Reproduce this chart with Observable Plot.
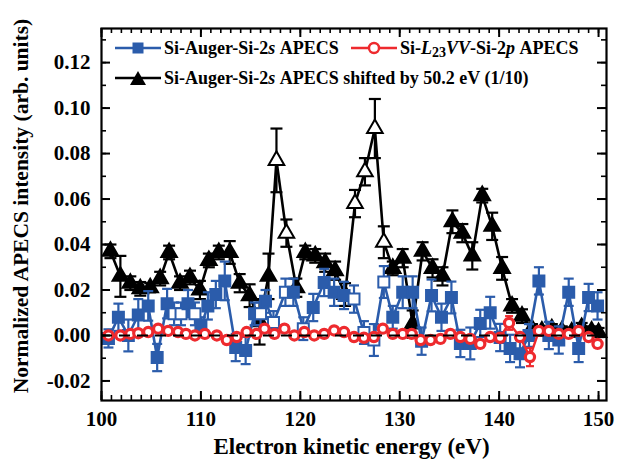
<!DOCTYPE html>
<html><head><meta charset="utf-8">
<script src="https://cdn.jsdelivr.net/npm/d3@7"></script>
<script src="https://cdn.jsdelivr.net/npm/@observablehq/plot@0.6"></script>
<style>
body{margin:0;background:#fff;}
#wrap{position:relative;width:623px;height:459px;font-family:"Liberation Serif","Times New Roman",serif;font-weight:bold;color:#000;}
.t{position:absolute;white-space:nowrap;line-height:1;}
.leg{position:absolute;display:flex;align-items:center;font-size:18px;white-space:nowrap;line-height:1;}
.leg svg{margin-right:3px;}
</style></head><body><div id="wrap"></div>
<script>
// ---- data ----
const blackX = [100.9,101.9,102.9,103.9,104.9,105.9,106.8,107.9,108.9,109.9,110.8,111.8,112.9,113.9,114.9,115.9,116.8,117.6,118.6,119.6,120.5,121.5,122.5,123.5,124.5,125.5,126.5,127.5,128.4,129.3,130.3,131.3,132.3,133.3,134.3,135.3,136.3,137.3,138.3,139.3,140.3,141.3,142.3,143.3,144.3,145.3,146.3,147.3,148.3,149.3,150.0];
const blackY = [0.037,0.026,0.023,0.0205,0.021,0.025,0.0365,0.023,0.0255,0.020,0.033,0.0365,0.0365,0.023,0.0175,0.006,0.026,0.077,0.045,0.021,0.0365,0.035,0.032,0.0285,0.018,0.058,0.072,0.091,0.041,0.0295,0.034,0.005,0.037,0.0295,0.026,0.050,0.045,0.035,0.0615,0.048,0.0295,0.013,0.0085,0.003,0.002,0.003,0.002,0.0015,0.0035,0.002,0.0013];
const blackErr = [0.003,0.009,0.003,0.003,0.002,0.003,0.003,0.003,0.003,0.004,0.003,0.003,0.005,0.004,0.005,0.01,0.01,0.014,0.006,0.004,0.003,0.003,0.004,0.004,0.005,0.006,0.006,0.013,0.007,0.003,0.004,0.006,0.004,0.004,0.004,0.005,0.004,0.006,0.003,0.006,0.005,0.003,0.003,0.002,0.002,0.002,0.002,0.002,0.002,0.002,0.002];
const blackOpen = [0,0,0,0,0,0,0,0,0,0,0,0,0,0,0,0,0,1,1,0,0,0,0,0,0,1,1,1,1,0,0,0,0,0,0,0,0,0,0,0,0,0,0,0,0,0,0,0,0,0,0];

const blueX = [100.7,101.7,102.7,103.7,104.7,105.6,106.6,107.3,108.0,108.7,109.4,110.0,110.7,111.5,112.4,113.5,114.5,115.4,116.0,116.5,117.3,118.5,119.3,120.3,121.3,122.4,123.4,124.4,125.4,126.4,127.4,128.4,129.3,130.3,131.3,132.2,133.2,134.2,135.2,136.1,137.1,138.1,139.1,140.1,141.1,142.1,143.0,144.0,145.0,146.0,147.0,148.0,149.0,149.9];
const blueY = [-0.0013,0.008,0.000,0.009,0.013,-0.0097,0.014,0.0095,0.0095,0.014,0.0095,0.004,0.013,0.018,0.024,-0.0053,-0.0066,0.0095,0.0095,0.015,0.0057,0.019,0.019,0.003,0.0123,0.0233,0.019,0.0176,0.016,0.0013,-0.002,0.0235,0.008,0.019,0.019,-0.0025,0.0176,0.008,0.0167,-0.0035,-0.0035,0.0053,0.010,-0.0009,-0.0057,-0.008,0.000,0.024,0.000,-0.002,0.019,-0.0057,0.0167,0.013];
const blueErr = [0.004,0.006,0.007,0.007,0.0065,0.006,0.0065,0.005,0.005,0.006,0.005,0.004,0.006,0.006,0.0085,0.006,0.006,0.005,0.005,0.005,0.005,0.006,0.006,0.005,0.006,0.006,0.006,0.006,0.006,0.005,0.007,0.007,0.005,0.007,0.007,0.006,0.007,0.006,0.007,0.006,0.007,0.006,0.007,0.006,0.006,0.006,0.005,0.006,0.006,0.006,0.006,0.006,0.006,0.006];
const blueOpen = [0,0,0,0,0,0,0,1,1,0,1,0,0,0,0,0,0,0,1,0,1,1,0,1,0,0,0,0,1,1,1,1,0,0,0,0,0,0,0,0,0,0,0,0,0,0,0,0,0,0,0,0,0,0];

const redX = [100.7,101.9,102.9,103.7,104.7,105.7,106.7,107.7,108.5,109.4,110.4,111.6,112.6,113.6,114.6,115.6,116.4,117.4,118.4,119.4,120.4,121.4,122.4,123.4,124.4,125.4,126.4,127.4,128.3,129.3,130.3,131.2,132.1,133.1,134.1,135.1,136.1,137.1,138.1,139.1,140.1,141.0,142.1,143.1,144.0,145.0,146.0,147.0,148.0,149.0,149.9];
const redY = [0,0,0.0007,0.001,0.0015,0.003,0.002,0.0015,0.0007,0,0.0007,0,-0.002,-0.0007,0.0015,0.0007,0.003,0.0007,0.003,0,0.0015,0,0.0007,0.0022,0.0015,-0.0007,-0.001,-0.0007,0.003,0.0007,0.0007,0.0007,-0.002,-0.002,-0.0015,0.0007,-0.0007,-0.0015,-0.0037,-0.0007,-0.001,0.0055,-0.0007,-0.0095,0.002,0.002,0.0007,0.0007,0.002,-0.0007,-0.0037];
const redErr = redX.map((x) => x === 141.0 ? 0.003 : x === 143.1 ? 0.004 : 0.0015);

const xMajor = [100,110,120,130,140,150];
const xMinor = d3.range(100,151,1);
const yMajor = [-0.02,0,0.02,0.04,0.06,0.08,0.10,0.12];
const yMinor = d3.range(-0.02,0.1301,0.01).map(v => +v.toFixed(3));

const xTitle = "Electron kinetic energy (eV)";
const yTitle = "Normalized APECS intensity (arb. units)";

// ---- build ----
const BLUE = "#2b5cab", RED = "#ee2a2e", BLACK = "#000";
const mk = (X, Y, E, O) => X.map((x,i) => ({x, y: Y[i], e: E[i], open: O ? !!O[i] : true}));
const black = mk(blackX, blackY, blackErr, blackOpen);
const blue = mk(blueX, blueY, blueErr, blueOpen);
const red = mk(redX, redY, redErr, null);

const cap = {draw(ctx, size){ const w = Math.sqrt(size/Math.PI); ctx.moveTo(-w,0); ctx.lineTo(w,0); }};

const W = 623, H = 459, mt = 28, mr = 17, mb = 59, ml = 101;
const fw = W - ml - mr, fh = H - mt - mb;

function series(data, color, symbol, r, capR, lw, sw) {
  const caps = data.flatMap(d => [{x: d.x, y: d.y - d.e}, {x: d.x, y: d.y + d.e}]);
  return [
    Plot.ruleX(data, {x: "x", y1: d => d.y - d.e, y2: d => d.y + d.e, stroke: color, strokeWidth: 2.2}),
    Plot.dot(caps, {x: "x", y: "y", symbol: cap, r: capR, stroke: color, strokeWidth: 2.2, fill: "none"}),
    Plot.line(data, {x: "x", y: "y", stroke: color, strokeWidth: lw, curve: "linear"}),
    Plot.dot(data, {x: "x", y: "y", symbol, r, stroke: color, strokeWidth: sw, fill: d => d.open ? "white" : color})
  ];
}

const plot = Plot.plot({
  width: W, height: H,
  marginTop: mt, marginRight: mr, marginBottom: mb, marginLeft: ml,
  style: {fontFamily: '"Liberation Serif","Times New Roman",serif', fontWeight: "bold", fontSize: "21px", background: "white", color: "black"},
  x: {domain: [100, 150.8]},
  y: {domain: [-0.0286, 0.135]},
  marks: [
    ...series(black, BLACK, "triangle", 5.8, 6, 2.6, 2),
    ...series(blue, BLUE, "square", 6.2, 5, 2.6, 2),
    ...series(red, RED, "circle", 4.6, 4, 2.4, 3.2),
    Plot.ruleY([0], {stroke: "black", strokeWidth: 2, strokeDasharray: "11,7"}),
    // inward ticks
    Plot.tickX(xMinor, {x: d => d, insetTop: fh - 5, stroke: "black", strokeWidth: 1.6}),
    Plot.tickX(xMajor, {x: d => d, insetTop: fh - 9, stroke: "black", strokeWidth: 2}),
    Plot.tickX(xMinor, {x: d => d, insetBottom: fh - 5, stroke: "black", strokeWidth: 1.6}),
    Plot.tickX(xMajor, {x: d => d, insetBottom: fh - 9, stroke: "black", strokeWidth: 2}),
    Plot.tickY(yMinor, {y: d => d, insetRight: fw - 5, stroke: "black", strokeWidth: 1.6}),
    Plot.tickY(yMajor, {y: d => d, insetRight: fw - 9, stroke: "black", strokeWidth: 2}),
    Plot.tickY(yMinor, {y: d => d, insetLeft: fw - 5, stroke: "black", strokeWidth: 1.6}),
    Plot.tickY(yMajor, {y: d => d, insetLeft: fw - 9, stroke: "black", strokeWidth: 2}),
    Plot.axisX(xMajor, {anchor: "bottom", tickSize: 0, tickPadding: 11, label: null, tickFormat: d => String(d)}),
    Plot.axisY(yMajor, {anchor: "left", tickSize: 0, tickPadding: 11, label: null, tickFormat: d => d.toFixed(2)}),
    Plot.frame({stroke: "black", strokeWidth: 2.2})
  ]
});

const wrap = document.getElementById("wrap");
wrap.appendChild(plot);

function addDiv(html, css, cls) {
  const d = document.createElement("div");
  d.className = cls; d.innerHTML = html; d.style.cssText = css; wrap.appendChild(d); return d;
}
addDiv(xTitle, "left:" + (ml + fw/2 - 2) + "px;top:435px;transform:translateX(-50%);font-size:23px;", "t");
addDiv(yTitle, "font-size:21.5px;left:22px;top:206px;transform:translate(-50%,-50%) rotate(-90deg);", "t");

const sw = (color, sym) => `<svg width="46" height="16" viewBox="0 0 46 16"><line x1="0" y1="8" x2="46" y2="8" stroke="${color}" stroke-width="2.5"/>${sym}</svg>`;
addDiv(sw(BLUE, `<rect x="17.5" y="2.5" width="11" height="11" fill="${BLUE}"/>`) + `Si-Auger-Si-2<i>s</i>&nbsp;APECS`, "left:115px;top:39px;", "leg");
addDiv(sw(RED, `<circle cx="23" cy="8" r="5" fill="white" stroke="${RED}" stroke-width="2.4"/>`) + `Si-<i>L</i><sub style="font-size:14px;position:relative;top:5px;vertical-align:baseline">23</sub><i>VV</i>-Si-2<i>p</i>&nbsp;APECS`, "left:351px;top:39px;", "leg");
addDiv(sw(BLACK, `<path d="M23,1 L31,15 L15,15 Z" fill="black"/>`) + `Si-Auger-Si-2<i>s</i>&nbsp;APECS shifted by 50.2 eV (1/10)`, "left:115px;top:69px;", "leg");
</script>
</body></html>
